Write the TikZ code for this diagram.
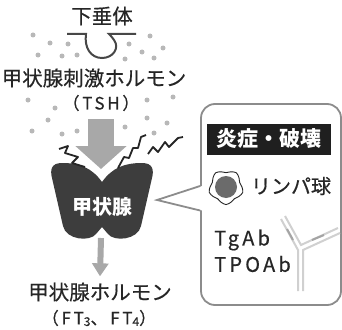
\documentclass[tikz,border=0pt]{standalone}
\usepackage{fontspec}
\setmainfont{Noto Sans CJK JP}
\newfontfamily\jpfont{Noto Sans CJK JP}[FakeBold=0.5]
\newfontfamily\spaced{Noto Sans CJK JP}[LetterSpace=16, FakeBold=0.5]
\usetikzlibrary{arrows.meta}
\usetikzlibrary{calc}
\usetikzlibrary{positioning}

\definecolor{ink}{HTML}{262626}
\definecolor{glandgray}{HTML}{3D3D3D}
\definecolor{arrowgray}{HTML}{A8A8A8}
\definecolor{dotgray}{HTML}{B8B8B8}
\definecolor{framegray}{HTML}{8C8C8C}
\definecolor{abgray}{HTML}{D0D0D0}
\definecolor{abdark}{HTML}{A4A4A4}

\tikzset{
	jp/.style={text=ink, inner sep=0pt, font=\fontsize{20.5}{22}\selectfont\jpfont},
	paren/.style={text=ink, inner sep=0pt, font=\fontsize{17}{18}\selectfont\spaced},
	latin/.style={text=ink, inner sep=0pt, font=\fontsize{20}{22}\selectfont\spaced},
	bigarrow/.style={draw=arrowgray, line width=26pt, -{Triangle[length=23pt, width=50pt]}},
	smallarrow/.style={draw=arrowgray, line width=6pt, -{Triangle[length=13pt, width=16pt]}},
	zig/.style={draw=ink, line width=1.8pt, line join=round},
	frame/.style={draw=framegray, line width=1.8pt}
}

\begin{document}
\begin{tikzpicture}[x=1pt, y=-1pt]
	\useasboundingbox (0,0) rectangle (342,329);

	% hormone dots around the stalk
	\foreach \x/\y in {33/35, 50/43, 68/44, 38/55, 62/56, 77/55, 129/44, 150/36,
	                   163/48, 142/52, 125/59, 154/58, 28/100, 55/108, 147/100,
	                   173/97, 48/120, 32/131, 62/134, 77/131, 125/127, 147/118,
	                   167/123, 154/133}
		\fill[dotgray] (\x,\y) circle (2.5pt);

	\begin{scope}[every node/.style=jp]
		\node (pit) at (102,16) {下垂体};
		\node (trh) at (94,78) {甲状腺刺激ホルモン};
		\node[paren] (tsh) at (101,103) {（TSH）};
		\node (hormone) at (100,292) {甲状腺ホルモン};
		\node[paren] (ft) at (99,318) {（FT{\fontsize{12}{12}\selectfont\raisebox{-1.5pt}{3}}、FT{\fontsize{12}{12}\selectfont\raisebox{-1.5pt}{4}}）};
	\end{scope}

	% pituitary stalk
	\draw[ink!85, line width=2pt] (67,34) -- (86,34)
		.. controls (84,48) and (91,58) .. (102,58)
		.. controls (113,58) and (120,48) .. (114,40)
		.. controls (112,37) and (110,35) .. (109,34) -- (136,34);

	% thyroid gland
	\fill[glandgray] (102,182)
		.. controls (92,168) and (80,163) .. (62,163)
		.. controls (51,163) and (50,170) .. (52,178)
		-- (63,226) .. controls (66,240) and (90,242) .. (96,234)
		-- (102,227) -- (108,234)
		.. controls (114,242) and (138,240) .. (141,226)
		-- (152,178) .. controls (154,170) and (153,163) .. (142,163)
		.. controls (124,163) and (112,168) .. cycle;
	\node[inner sep=0pt, text=white, font=\fontsize{20}{22}\selectfont\bfseries] (gland) at (102,207) {甲状腺};

	\coordinate (notch) at (101,169);
	\coordinate (glandfoot) at (101,238);
	\draw[bigarrow] ([yshift=-8pt]tsh.south) -- (notch);
	\draw[smallarrow] (glandfoot) -- ([yshift=6pt]hormone.north);

	% attack marks
	\draw[zig] (59,149) -- (68,146) -- (65,153) -- (78,157) -- (72,163) -- (85,167);
	\draw[zig] (118,168) -- (124,157) -- (129,158) -- (133,148) -- (138,148) -- (141,137) -- (146,135);
	\draw[zig] (148,154) -- (153,147) -- (158,152) -- (165,142) -- (169,147) -- (178,138) -- (183,137);

	% callout panel
	\node[frame, fill=white, rounded corners=14pt, minimum width=140pt,
	      minimum height=201pt, inner sep=0pt] (panel) at (271,204.5) {};
	\coordinate (tip) at (157,200);
	\fill[white] ($(panel.west)+(2,-18.5)$) -- (tip) -- ($(panel.west)+(2,6)$) -- cycle;
	\draw[frame, line join=miter] ($(panel.west)+(0,-18.5)$) -- (tip) -- ($(panel.west)+(0,6)$);

	\node[fill=black!88, text=white, inner sep=0pt, minimum width=124pt, minimum height=31pt,
	      font=\fontsize{21}{22}\selectfont\bfseries] (damage) at (269,139) {炎症・破壊};

	% lymphocyte
	\coordinate (cell) at (226,187);
	\draw[ink, line width=0.9pt, fill=white, shift={(cell)}]
		plot[smooth cycle, domain=0:342, samples=20, variable=\a]
		({(16+1.6*sin(5*\a))*cos(\a)}, {(16+1.6*sin(5*\a))*sin(\a)});
	\fill[black!58] (cell) circle (11pt);
	\node[jp, font=\fontsize{20}{22}\selectfont\jpfont] (lympho) at (291,186) {リンパ球};

	\node[latin, anchor=west] (tgab) at (214,240) {TgAb};
	\node[latin, anchor=west] (tpoab) at ($(tgab.west)+(0,24)$) {TPOAb};

	% antibody
	\begin{scope}[line width=2pt]
		\draw[abgray] (298,291) -- (298,250) -- (281,219);
		\draw[abgray] (303,291) -- (303,250) -- (340,233);
		\draw[abgray] (285,216) -- (301,245) -- (338,228);
		\draw[abdark] (287,229) -- (293,240);
		\draw[abdark] (312,240) -- (324,235);
	\end{scope}
\end{tikzpicture}
\end{document}
